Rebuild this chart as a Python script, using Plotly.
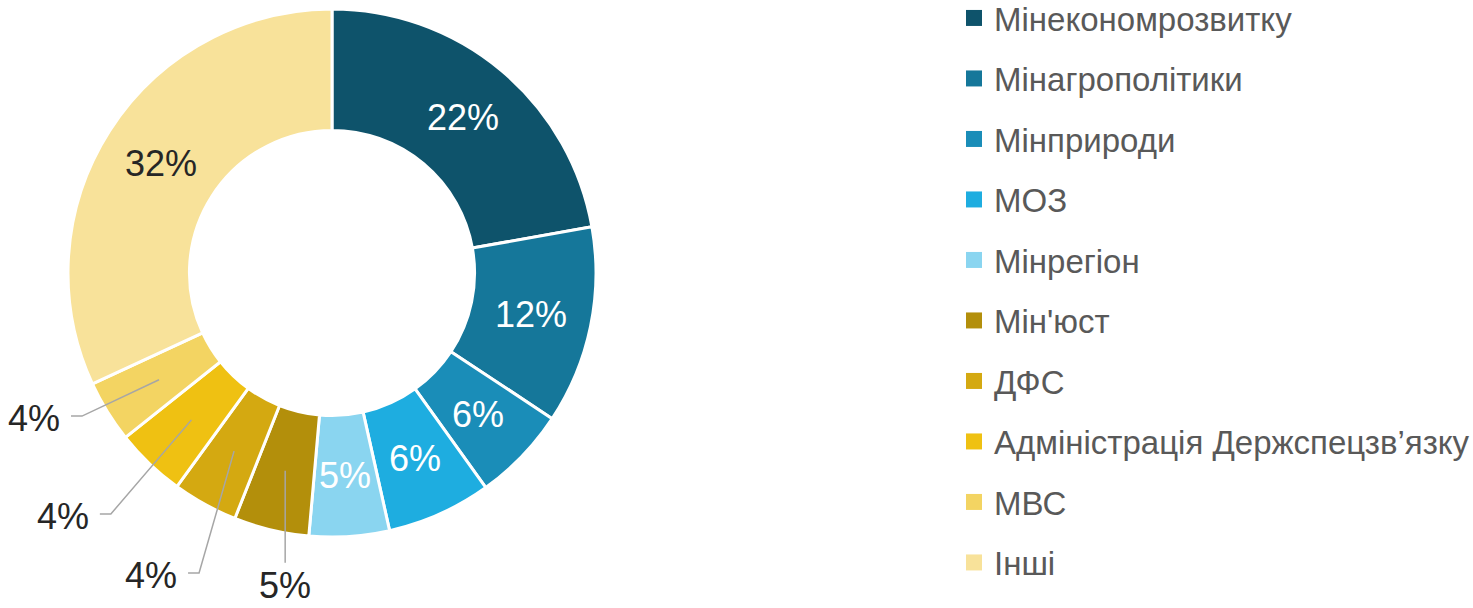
import math
import plotly.graph_objects as go

# ---- data ----
labels = ["Мінекономрозвитку", "Мінагрополітики", "Мінприроди", "МОЗ", "Мінрегіон",
          "Мін'юст", "ДФС", "Адміністрація Держспецзв’язку", "МВС", "Інші"]
values = [22.2, 12.1, 5.8, 6.4, 4.9, 4.6, 4.0, 4.3, 3.8, 31.9]
colors = ["#0E536B", "#15779A", "#1A8DB8", "#1EADE0", "#8AD5F0",
          "#B38F0B", "#D4A911", "#EFC112", "#F3D462", "#F8E29A"]
outside = [False, False, False, False, False, True, True, True, True, False]

# ---- style / layout ----
W, H = 1473, 608
FONT = "Liberation Sans, Arial, sans-serif"
CX, CY, R = 332, 273, 264          # pie centre / radius in pixels
HOLE = 0.54
PCT_SIZE = 36
# leader-line elbow: (radius factor, angle offset in degrees)
elbow = {5: (1.128, 0.0), 6: (1.243, -4.9), 7: (1.239, -1.2), 8: (1.091, 1.9)}
label_colors = ["#FFFFFF"] * 5 + ["#262626"] * 5

pct = [f"{round(v)}%" for v in values]

fig = go.Figure()
fig.add_trace(go.Pie(
    labels=labels, values=values, sort=False, direction="clockwise", rotation=0,
    hole=HOLE, textinfo="none",
    marker=dict(colors=colors, line=dict(color="#FFFFFF", width=3)),
    domain=dict(x=[(CX - R) / W, (CX + R) / W], y=[1 - (CY + R) / H, 1 - (CY - R) / H]),
    showlegend=False, hoverinfo="label+percent",
))

# legend built from the same labels / colours
for i, (lab, col) in enumerate(zip(labels, colors)):
    fig.add_trace(go.Scatter(
        x=[None], y=[None], mode="markers", name=lab, legendgroup=f"g{i}",
        marker=dict(symbol="square", size=17, color=col), showlegend=True,
        hoverinfo="skip",
    ))

# slice labels (inside at mid-ring, outside with leader lines)
total = sum(values)
cum = 0.0
shapes, annotations = [], []
def to_paper(px, py):
    return px / W, 1 - py / H
def polar(r, ang):
    return CX + r * math.sin(ang), CY - r * math.cos(ang)
r_mid = R * (1 + HOLE) / 2
for i, v in enumerate(values):
    mid = (cum + v / 2) / total * 2 * math.pi
    cum += v
    p1 = polar(r_mid, mid)
    font = dict(family=FONT, size=PCT_SIZE, color=label_colors[i])
    if not outside[i]:
        tx, ty = to_paper(*p1)
        annotations.append(dict(x=tx, y=ty, xref="paper", yref="paper", text=pct[i],
                                showarrow=False, xanchor="center", yanchor="middle", font=font))
        continue
    rf, off = elbow[i]
    p2 = polar(R * rf, mid + math.radians(off))
    if i == 5:
        p2 = (p1[0], p2[1])
        pts = [p1, p2]
        tx, ty = to_paper(p2[0], p2[1] + 23)
        annotations.append(dict(x=tx, y=ty, xref="paper", yref="paper", text=pct[i],
                                showarrow=False, xanchor="center", yanchor="middle", font=font))
    else:
        p3 = (p2[0] - 11, p2[1])
        pts = [p1, p2, p3]
        tx, ty = to_paper(p3[0] - 9, p3[1] + 2)
        annotations.append(dict(x=tx, y=ty, xref="paper", yref="paper", text=pct[i],
                                showarrow=False, xanchor="right", yanchor="middle", font=font))
    path = ""
    for k, (px, py) in enumerate(pts):
        x, y = to_paper(px, py)
        path += ("M" if k == 0 else "L") + f"{x:.5f},{y:.5f}"
    shapes.append(dict(type="path", path=path, xref="paper", yref="paper",
                       line=dict(color="#A6A6A6", width=1.5)))

fig.update_layout(
    width=W, height=H, margin=dict(l=0, r=0, t=0, b=0, autoexpand=False),
    paper_bgcolor="#FFFFFF", plot_bgcolor="#FFFFFF",
    xaxis=dict(visible=False), yaxis=dict(visible=False),
    shapes=shapes, annotations=annotations,
    legend=dict(x=954 / W, y=1 + 10 / H, xanchor="left", yanchor="top",
                font=dict(family=FONT, size=33, color="#595959"),
                itemsizing="trace", tracegroupgap=14.6, bgcolor="rgba(0,0,0,0)"),
)
try:
    fig.update_layout(legend_maxheight=900)
except Exception:
    pass

fig.write_html("out.html", config={"displayModeBar": False},
               post_script="document.body.style.margin='0px';document.body.style.overflow='hidden';")
